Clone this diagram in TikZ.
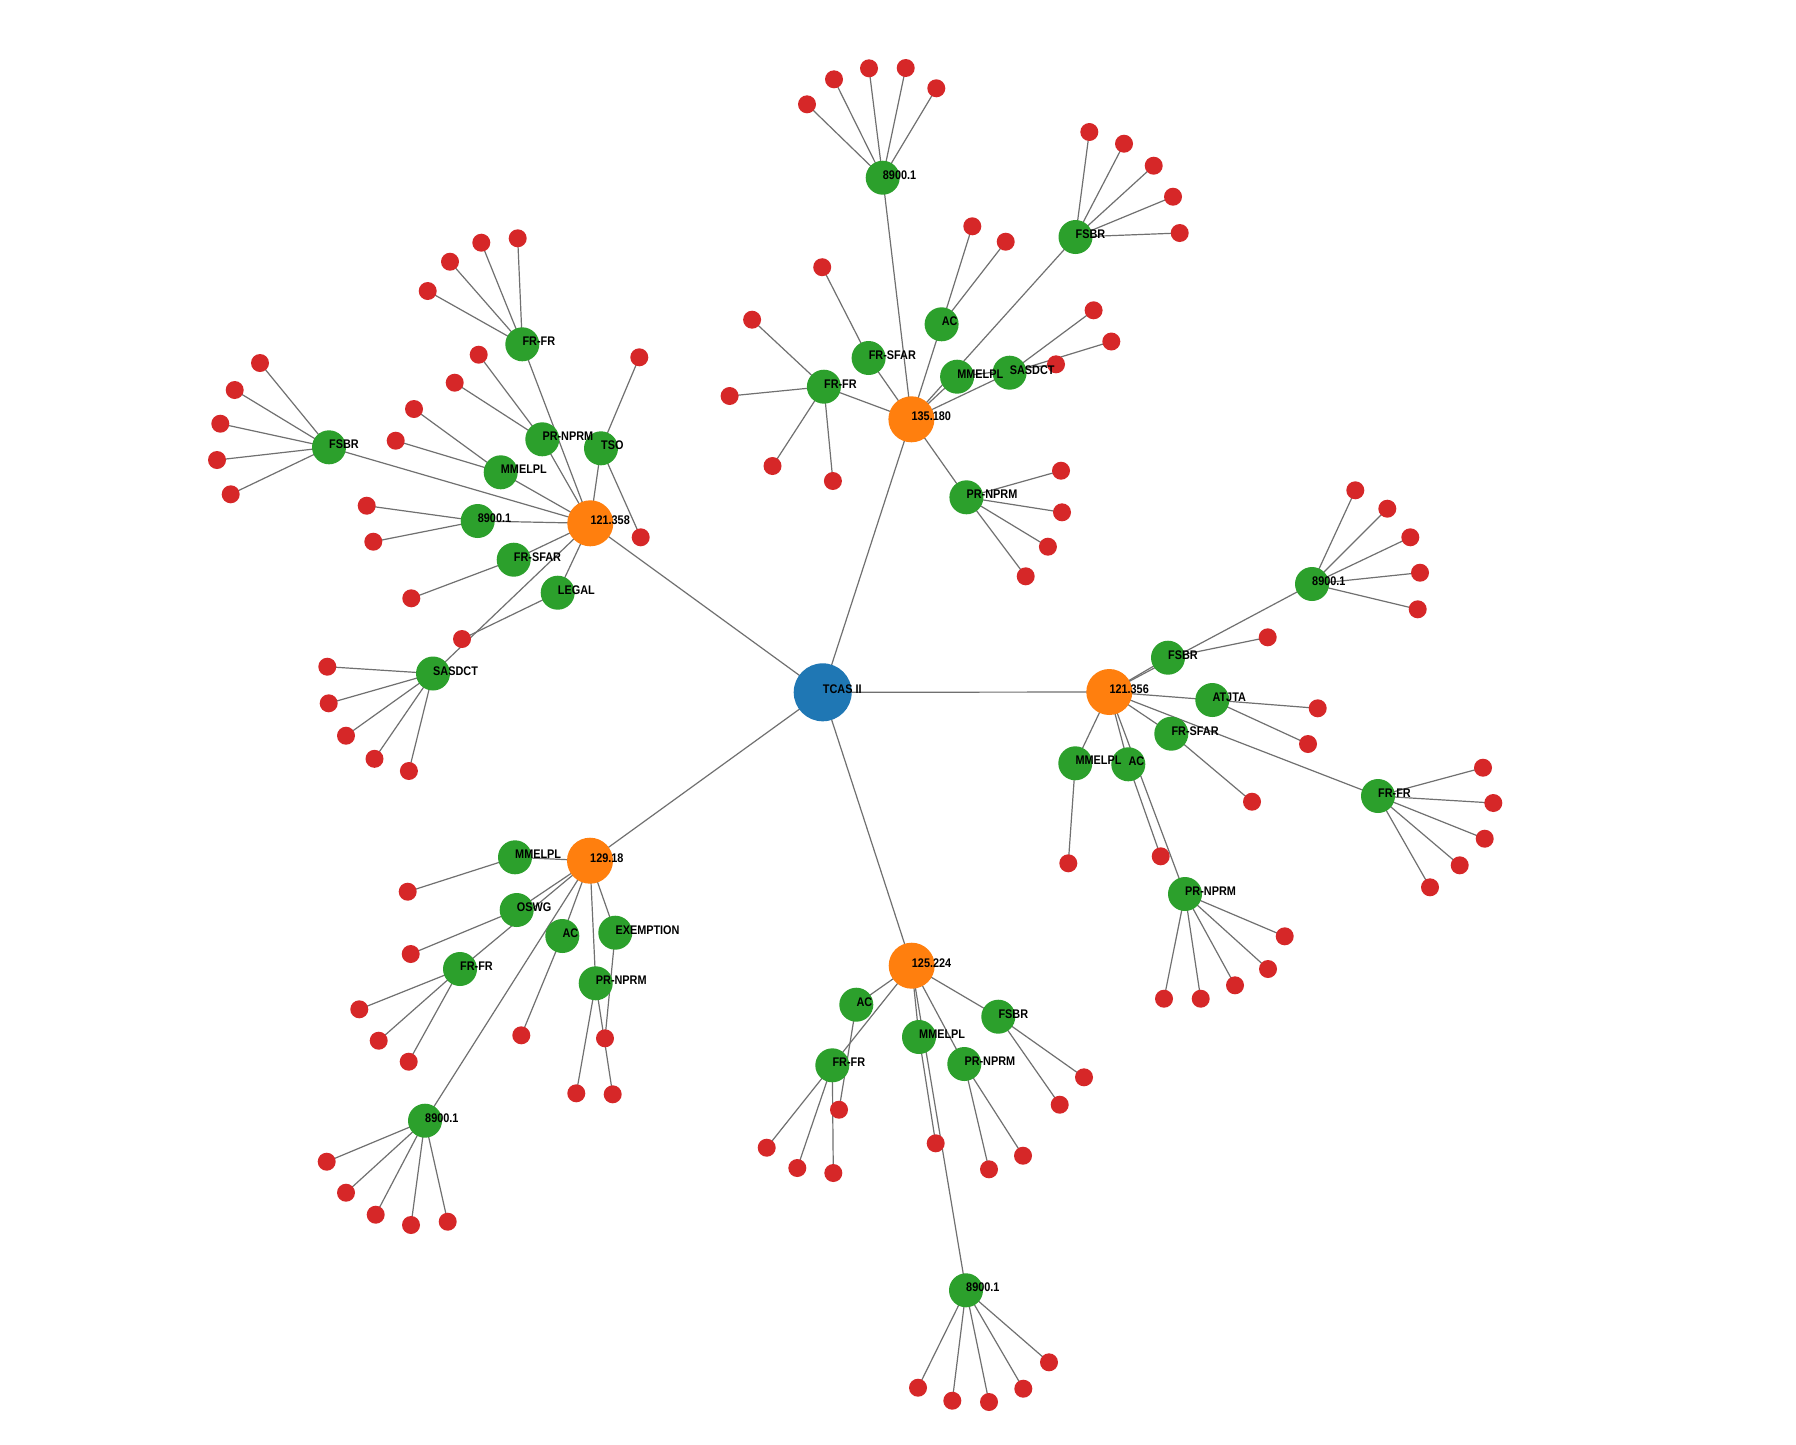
\documentclass[tikz,border=0pt]{standalone}
\usepackage{fontspec}
\newfontfamily\labfont[FakeStretch=0.87]{Liberation Sans}
\definecolor{cblue}{HTML}{1F77B4}
\definecolor{corange}{HTML}{FF7F0E}
\definecolor{cgreen}{HTML}{2CA02C}
\definecolor{cred}{HTML}{D62728}
\definecolor{cedge}{HTML}{707070}
\pgfdeclarelayer{bg}\pgfdeclarelayer{edges}\pgfdeclarelayer{labels}
\pgfsetlayers{bg,edges,main,labels}
\tikzset{
 dot/.style={circle,inner sep=0pt,draw=none},
 rootnode/.style={dot,fill=cblue,minimum size=58pt},
 hubnode/.style={dot,fill=corange,minimum size=46pt},
 catnode/.style={dot,fill=cgreen,minimum size=34pt},
 leafnode/.style={dot,fill=cred,minimum size=18pt},
 lab/.style={anchor=base west,inner sep=0pt,font=\labfont\bfseries\fontsize{12.5}{14}\selectfont,text=black},
 link/.style={draw=cedge,line width=1.2pt},
}
\newcommand{\mkL}[5]{\node[#1] (#2) at (#3,#4) {};
 \begin{pgfonlayer}{labels}\node[lab] (#2-l) at ([yshift=-1.5pt]#2.center) {#5};\end{pgfonlayer}}
\newcommand{\mkC}[6]{\mkL{#1}{#2}{#3}{#4}{#5}%
 \begin{pgfonlayer}{edges}\draw[link] (#6.center) -- (#2.center);\end{pgfonlayer}}
\newcommand{\mkR}[4]{\node[leafnode] (#1) at (#2,#3) {};%
 \begin{pgfonlayer}{edges}\draw[link] (#4.center) -- (#1.center);\end{pgfonlayer}}
\begin{document}
\begin{tikzpicture}[x=1pt,y=-1pt]
\begin{pgfonlayer}{bg}
\fill[white] (0,0) rectangle (1796,1444);
\end{pgfonlayer}
\useasboundingbox (0,0) rectangle (1796,1444);
% root
\mkL{rootnode}{tcas}{822.7}{692.3}{TCAS II}
% hubs
\mkC{hubnode}{hA}{590.3}{523.3}{121.358}{tcas}
\mkC{hubnode}{hB}{911.4}{419.3}{135.180}{tcas}
\mkC{hubnode}{hC}{1109.3}{692}{121.356}{tcas}
\mkC{hubnode}{hD}{590}{860.7}{129.18}{tcas}
\mkC{hubnode}{hE}{911.7}{965.7}{125.224}{tcas}
% ---- hub A 121.358
\mkC{catnode}{aFF}{522.3}{344.3}{FR-FR}{hA}
\mkR{aFF1}{427.7}{291}{aFF}\mkR{aFF2}{450}{261.7}{aFF}\mkR{aFF3}{481.3}{242.7}{aFF}\mkR{aFF4}{517.7}{238.3}{aFF}
\mkC{catnode}{aFS}{329}{447.3}{FSBR}{hA}
\mkR{aFS1}{260}{363}{aFS}\mkR{aFS2}{234.7}{390}{aFS}\mkR{aFS3}{220.3}{423.7}{aFS}\mkR{aFS4}{217}{460}{aFS}\mkR{aFS5}{230.7}{494.3}{aFS}
\mkC{catnode}{aPR}{542.3}{439.3}{PR-NPRM}{hA}
\mkR{aPR1}{478.7}{354.7}{aPR}\mkR{aPR2}{454.7}{382.7}{aPR}
\mkC{catnode}{aTS}{601}{448.3}{TSO}{hA}
\mkR{aTS1}{639.3}{357.3}{aTS}\mkR{aTS2}{640.7}{537.3}{aTS}
\mkC{catnode}{aMM}{500.7}{472.3}{MMELPL}{hA}
\mkR{aMM1}{414}{409}{aMM}\mkR{aMM2}{395.7}{440.7}{aMM}
\mkC{catnode}{a89}{477.7}{521}{8900.1}{hA}
\mkR{a891}{366.7}{505.7}{a89}\mkR{a892}{373.3}{541.7}{a89}
\mkC{catnode}{aSF}{513.7}{559.7}{FR-SFAR}{hA}
\mkR{aSF1}{411.3}{598.3}{aSF}
\mkC{catnode}{aLG}{557.7}{592.7}{LEGAL}{hA}
\mkR{aLG1}{462}{639}{aLG}
\mkC{catnode}{aSA}{433}{673.5}{SASDCT}{hA}
\mkR{aSA1}{327.3}{666.7}{aSA}\mkR{aSA2}{328.7}{703.3}{aSA}\mkR{aSA3}{346}{735.7}{aSA}\mkR{aSA4}{374.5}{758.8}{aSA}\mkR{aSA5}{408.9}{771}{aSA}
% ---- hub B 135.180
\mkC{catnode}{b89}{882.7}{177.7}{8900.1}{hB}
\mkR{b891}{807}{104.3}{b89}\mkR{b892}{834}{79.3}{b89}\mkR{b893}{869}{68.3}{b89}\mkR{b894}{905.7}{68}{b89}\mkR{b895}{936.3}{88.3}{b89}
\mkC{catnode}{bFS}{1075.5}{237}{FSBR}{hB}
\mkR{bFS1}{1089.3}{132}{bFS}\mkR{bFS2}{1124}{143.7}{bFS}\mkR{bFS3}{1153.7}{165.7}{bFS}\mkR{bFS4}{1173}{196.7}{bFS}\mkR{bFS5}{1179.7}{233}{bFS}
\mkC{catnode}{bAC}{941.6}{324.3}{AC}{hB}
\mkR{bAC1}{972.3}{226.3}{bAC}\mkR{bAC2}{1005.7}{241.7}{bAC}
\mkC{catnode}{bMM}{957.1}{376.7}{MMELPL}{hB}
\mkC{catnode}{bSA}{1009.6}{372.7}{SASDCT}{hB}
\mkR{bSA1}{1093.6}{310.3}{bSA}\mkR{bSA2}{1111.3}{341.5}{bSA}
\mkR{bMM1}{1056}{364.3}{bMM}
\mkC{catnode}{bSF}{868.6}{358}{FR-SFAR}{hB}
\mkR{bSF1}{822.2}{267.2}{bSF}
\mkC{catnode}{bFF}{823.9}{386.7}{FR-FR}{hB}
\mkR{bFF1}{752.1}{319.7}{bFF}\mkR{bFF2}{729.6}{396}{bFF}\mkR{bFF3}{772.5}{466}{bFF}\mkR{bFF4}{832.9}{481}{bFF}
\mkC{catnode}{bPR}{966.4}{497.3}{PR-NPRM}{hB}
\mkR{bPR1}{1061}{470.7}{bPR}\mkR{bPR2}{1062}{512.3}{bPR}\mkR{bPR3}{1047.9}{546.7}{bPR}\mkR{bPR4}{1025.7}{576.3}{bPR}
% ---- hub C 121.356
\mkC{catnode}{cFS}{1168}{657.7}{FSBR}{hC}
\mkR{cFS1}{1267.7}{637.3}{cFS}
\mkC{catnode}{c89}{1312}{584}{8900.1}{hC}
\mkR{c891}{1355.3}{490.3}{c89}\mkR{c892}{1387.3}{508.7}{c89}\mkR{c893}{1410.3}{537.3}{c89}\mkR{c894}{1420}{572.7}{c89}\mkR{c895}{1417.7}{609.3}{c89}
\mkC{catnode}{cAT}{1212.3}{700}{ATJTA}{hC}
\mkR{cAT1}{1317.7}{708.3}{cAT}\mkR{cAT2}{1308}{744}{cAT}
\mkC{catnode}{cSF}{1171.3}{733.7}{FR-SFAR}{hC}
\mkR{cSF1}{1252}{801.7}{cSF}
\mkC{catnode}{cFF}{1378}{796}{FR-FR}{hC}
\mkR{cFF1}{1483}{767.7}{cFF}\mkR{cFF2}{1493.3}{803}{cFF}\mkR{cFF3}{1484.7}{838.7}{cFF}\mkR{cFF4}{1459.7}{865.3}{cFF}\mkR{cFF5}{1430}{887.3}{cFF}
\mkC{catnode}{cMM}{1075.3}{763.3}{MMELPL}{hC}
\mkR{cMM1}{1068.3}{863.3}{cMM}
\mkC{catnode}{cAC}{1128.3}{764.3}{AC}{hC}
\mkR{cAC1}{1160.7}{856.3}{cAC}
\mkC{catnode}{cPR}{1185}{894}{PR-NPRM}{hC}
\mkR{cPR1}{1284.7}{936.3}{cPR}\mkR{cPR2}{1268}{969}{cPR}\mkR{cPR3}{1235}{985.3}{cPR}\mkR{cPR4}{1200.7}{998.7}{cPR}\mkR{cPR5}{1164}{998.7}{cPR}
% ---- hub D 129.18
\mkC{catnode}{dMM}{515}{857.3}{MMELPL}{hD}
\mkR{dMM1}{407.7}{891.7}{dMM}
\mkC{catnode}{dOS}{516.7}{910}{OSWG}{hD}
\mkR{dOS1}{410.7}{954}{dOS}
\mkC{catnode}{dFF}{460}{969}{FR-FR}{hD}
\mkR{dFF1}{359.3}{1009.3}{dFF}\mkR{dFF2}{378.7}{1040.7}{dFF}\mkR{dFF3}{408.7}{1061.7}{dFF}
\mkC{catnode}{dAC}{562.3}{936}{AC}{hD}
\mkR{dAC1}{521.3}{1035.3}{dAC}
\mkC{catnode}{dPR}{595.7}{983.3}{PR-NPRM}{hD}
\mkR{dPR1}{576.3}{1093.3}{dPR}\mkR{dPR2}{612.7}{1094.3}{dPR}
\mkC{catnode}{dEX}{615.3}{932.7}{EXEMPTION}{hD}
\mkR{dEX1}{605}{1038.3}{dEX}
\mkC{catnode}{d89}{425}{1120.7}{8900.1}{hD}
\mkR{d891}{326.7}{1161.7}{d89}\mkR{d892}{346}{1192.7}{d89}\mkR{d893}{375.7}{1214.7}{d89}\mkR{d894}{411}{1225}{d89}\mkR{d895}{447.7}{1221.7}{d89}
% ---- hub E 125.224
\mkC{catnode}{eAC}{856.3}{1004.7}{AC}{hE}
\mkC{catnode}{eFF}{832.3}{1065.3}{FR-FR}{hE}
\mkR{eAC1}{839}{1109.7}{eAC}
\mkR{eFF1}{766.7}{1147.7}{eFF}\mkR{eFF2}{797.3}{1168}{eFF}\mkR{eFF3}{833.3}{1173}{eFF}
\mkC{catnode}{eMM}{919}{1037}{MMELPL}{hE}
\mkR{eMM1}{935.7}{1143.3}{eMM}
\mkC{catnode}{ePR}{964.3}{1064}{PR-NPRM}{hE}
\mkR{ePR1}{989}{1169.3}{ePR}\mkR{ePR2}{1023}{1155.7}{ePR}
\mkC{catnode}{eFS}{998.3}{1016.7}{FSBR}{hE}
\mkR{eFS1}{1084}{1077.3}{eFS}\mkR{eFS2}{1059.7}{1104.7}{eFS}
\mkC{catnode}{e89}{966}{1290.3}{8900.1}{hE}
\mkR{e891}{918}{1387.7}{e89}\mkR{e892}{952.3}{1400.7}{e89}\mkR{e893}{989}{1402}{e89}\mkR{e894}{1023.3}{1388.7}{e89}\mkR{e895}{1049}{1362.3}{e89}
\end{tikzpicture}
\end{document}
